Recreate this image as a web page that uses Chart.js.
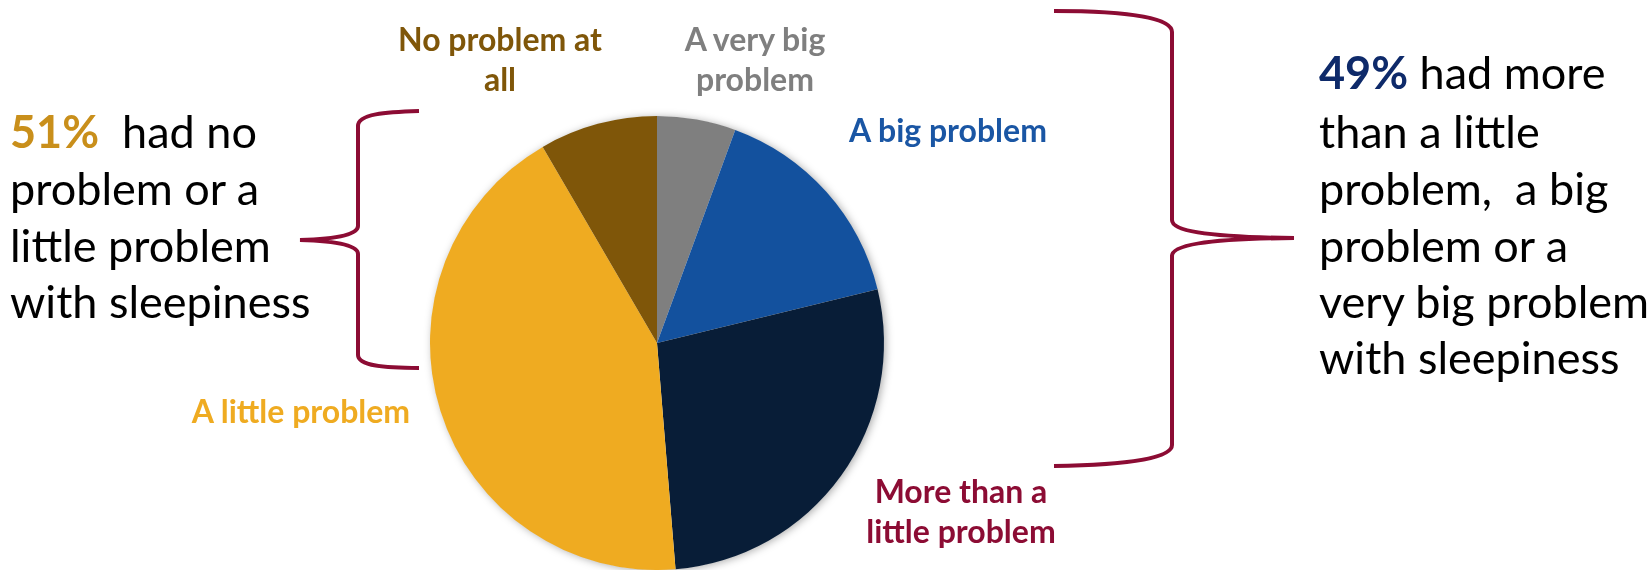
<!DOCTYPE html>
<html>
<head>
<meta charset="utf-8">
<script src="https://cdn.jsdelivr.net/npm/chart.js@4.4.1/dist/chart.umd.min.js"></script>
<style>
  html, body { margin: 0; padding: 0; background: #ffffff; }
  #wrap { position: relative; width: 1652px; height: 570px; overflow: hidden; font-family: Lato, "Open Sans", sans-serif; }
  #c { position: absolute; left: 0; top: 0; }
  svg { position: absolute; left: 0; top: 0; }
  .lbl { position: absolute; font-weight: bold; font-size: 32px; line-height: 40px; text-align: center; white-space: nowrap; transform: translate(-50%, -50%); }
  .line { position: absolute; font-size: 45px; line-height: 45px; white-space: pre; color: #000; transform: translateY(-50%); }
</style>
</head>
<body>
<div id="wrap">
  <canvas id="c" width="1652" height="570"></canvas>
  <svg width="1652" height="570" viewBox="0 0 1652 570">
    <path d="M 419 111 C 385 112, 358 114, 358 126 L 358 226 C 358 234, 340 239, 300 240 C 340 241, 358 246, 358 254 L 358 355 C 358 366, 385 368, 419 368" fill="none" stroke="#8C0C34" stroke-width="4"/>
    <path d="M 1054 11 C 1130 11, 1172 18, 1172 32 L 1172 220 C 1172 230, 1200 237, 1294 238 C 1200 239, 1172 246, 1172 256 L 1172 445 C 1172 458, 1130 465, 1054 466" fill="none" stroke="#8C0C34" stroke-width="4"/>
  </svg>
</div>
<script>
// ---- data ----
const categories = ['A very big problem', 'A big problem', 'More than a little problem', 'A little problem', 'No problem at all'];
const values = [5.6, 15.6, 27.5, 42.9, 8.4];
const sliceColors = ['#7F7F7F', '#13519E', '#081D37', '#EFAB21', '#7F5609'];
const labelLines = [['A very big', 'problem'], ['A big problem'], ['More than a', 'little problem'], ['A little problem'], ['No problem at', 'all']];
const labelColors = ['#7F7F7F', '#1A56A4', '#8C0C34', '#EFAB21', '#7F5609'];
const leftSummary = ['51%', '  had no', 'problem or a', 'little problem', 'with sleepiness'];
const rightSummary = ['49%', ' had more', 'than a little', 'problem,  a big', 'problem or a', 'very big problem', 'with sleepiness'];

// ---- label positions (layout) ----
const labelPos = [[755, 59], [948, 130], [961, 511], [301, 411], [500, 59]];
const wrap = document.getElementById('wrap');
labelLines.forEach((lines, i) => {
  const d = document.createElement('div');
  d.className = 'lbl';
  d.style.left = labelPos[i][0] + 'px';
  d.style.top = labelPos[i][1] + 'px';
  d.style.color = labelColors[i];
  d.innerHTML = lines.join('<br>');
  wrap.appendChild(d);
});

function addLine(x, y, html) {
  const d = document.createElement('div');
  d.className = 'line';
  d.style.left = x + 'px';
  d.style.top = y + 'px';
  d.innerHTML = html;
  wrap.appendChild(d);
}
const leftY = [131, 188, 245, 301];
addLine(10, leftY[0], '<b style="color:#C98F1B">' + leftSummary[0] + '</b>' + leftSummary[1]);
for (let i = 2; i < leftSummary.length; i++) addLine(10, leftY[i - 1], leftSummary[i]);
const rightY = [72, 131, 188, 245, 301, 357];
addLine(1319, rightY[0], '<b style="color:#0E2A6A">' + rightSummary[0] + '</b>' + rightSummary[1]);
for (let i = 2; i < rightSummary.length; i++) addLine(1319, rightY[i - 1], rightSummary[i]);

// shadow plugin: white disc with soft shadow behind the pie
const shadowPlugin = {
  id: 'pieShadow',
  beforeDatasetsDraw(chart) {
    const arc = chart.getDatasetMeta(0).data[0];
    if (!arc) return;
    const ctx = chart.ctx;
    ctx.save();
    ctx.shadowColor = 'rgba(0,0,0,0.35)';
    ctx.shadowBlur = 8;
    ctx.shadowOffsetX = 2;
    ctx.shadowOffsetY = 1;
    ctx.fillStyle = '#ffffff';
    ctx.beginPath();
    ctx.arc(arc.x, arc.y, arc.outerRadius - 0.5, 0, Math.PI * 2);
    ctx.fill();
    ctx.restore();
  }
};

new Chart(document.getElementById('c'), {
  type: 'pie',
  data: {
    labels: categories,
    datasets: [{ data: values, backgroundColor: sliceColors, borderWidth: 0 }]
  },
  options: {
    responsive: false,
    animation: false,
    layout: { padding: { left: 430, right: 768, top: 116, bottom: 0 } },
    plugins: { legend: { display: false }, tooltip: { enabled: false } }
  },
  plugins: [shadowPlugin]
});
</script>
</body>
</html>
